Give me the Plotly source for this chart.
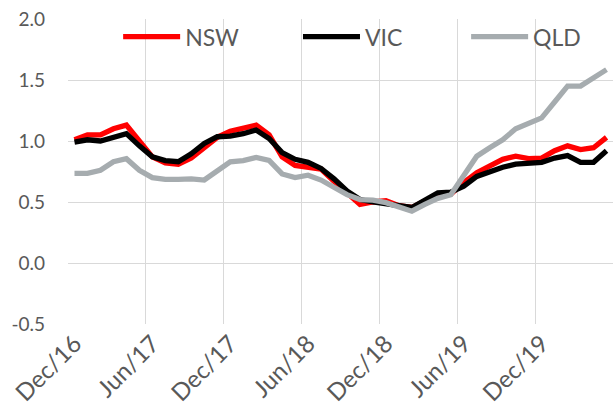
import pandas as pd
import plotly.graph_objects as go

months = [d.strftime("%b/%y") for d in pd.date_range("2016-12-01", periods=42, freq="MS")]

y_ticks = [-0.5, 0.0, 0.5, 1.0, 1.5, 2.0]
y_tick_text = ["-0.5", "0.0", "0.5", "1.0", "1.5", "2.0"]

nsw = [1.01, 1.05, 1.05, 1.10, 1.13, 1.00, 0.87, 0.82, 0.81, 0.86,
       0.95, 1.03, 1.08, 1.10, 1.13, 1.05, 0.87, 0.80, 0.79, 0.77,
       0.67, 0.575, 0.48, 0.50, 0.51, 0.47, 0.455, 0.51, 0.56, 0.565,
       0.66, 0.74, 0.80, 0.85, 0.875, 0.855, 0.86, 0.92, 0.96, 0.93,
       0.945, 1.03]
vic = [0.99, 1.01, 1.00, 1.03, 1.06, 0.96, 0.87, 0.84, 0.83, 0.895,
       0.98, 1.035, 1.04, 1.06, 1.09, 1.02, 0.905, 0.85, 0.825, 0.775,
       0.69, 0.59, 0.52, 0.50, 0.49, 0.47, 0.455, 0.52, 0.575, 0.58,
       0.63, 0.71, 0.75, 0.785, 0.81, 0.815, 0.825, 0.86, 0.88, 0.825,
       0.825, 0.92]
qld = [0.735, 0.735, 0.76, 0.83, 0.855, 0.76, 0.70, 0.685, 0.685, 0.69,
       0.68, 0.76, 0.83, 0.84, 0.865, 0.84, 0.73, 0.70, 0.72, 0.68,
       0.62, 0.56, 0.52, 0.515, 0.495, 0.46, 0.425, 0.48, 0.53, 0.56,
       0.72, 0.875, 0.945, 1.01, 1.10, 1.14, 1.19, 1.32, 1.45, 1.45,
       1.52, 1.585]

series = [("NSW", nsw, "#FF0000", "legend", 0.092),
          ("VIC", vic, "#000000", "legend2", 0.422),
          ("QLD", qld, "#A6ACAF", "legend3", 0.7305)]

FONT = "Lato, 'Open Sans', sans-serif"
TXT = "#595959"
GRID = "#D9D9D9"

fig = go.Figure()
legends = {}
for name, vals, col, leg, lx in series:
    fig.add_trace(go.Scatter(x=months, y=vals, name=name, mode="lines", legend=leg,
                             line=dict(color=col, width=5.3)))
    legends[leg] = dict(orientation="h", x=lx, xanchor="left", y=0.942, yanchor="middle",
                        bgcolor="rgba(0,0,0,0)", font=dict(size=23, color=TXT, family=FONT),
                        itemwidth=57, borderwidth=0)

fig.update_layout(
    width=614, height=412,
    margin=dict(l=68, r=1, t=19, b=88, autoexpand=False),
    paper_bgcolor="white", plot_bgcolor="white",
    font=dict(family=FONT, color=TXT, size=19),
    showlegend=True,
    **legends,
)
fig.update_xaxes(type="category", categoryorder="array", categoryarray=months,
                 range=[-0.5, len(months) - 0.5],
                 tickson="boundaries", tickmode="linear", tick0=0, dtick=6,
                 tickangle=-45, showgrid=True, gridcolor=GRID, gridwidth=1.3,
                 ticks="", showline=False, zeroline=False, automargin=False,
                 tickfont=dict(size=24, color=TXT, family=FONT))
fig.update_yaxes(range=[-0.5, 2.0], tickmode="array", tickvals=y_ticks, ticktext=y_tick_text,
                 showgrid=True, gridcolor=GRID, gridwidth=1.3, zeroline=False,
                 showline=False, ticks="", ticklabelstandoff=22, automargin=False,
                 tickfont=dict(size=19, color=TXT, family=FONT))

fig.write_html("out.html", config={"displayModeBar": False},
               post_script="document.body.style.margin='0px';")
